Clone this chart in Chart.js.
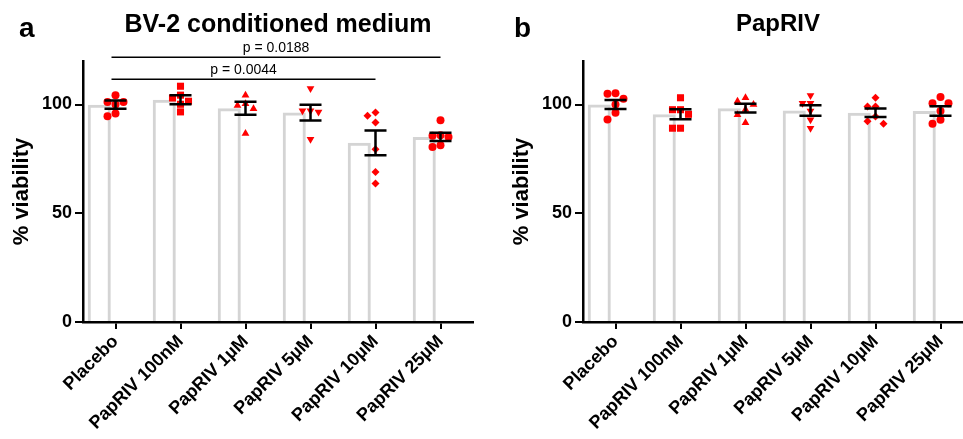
<!DOCTYPE html>
<html><head><meta charset="utf-8">
<script src="https://cdn.jsdelivr.net/npm/chart.js@4.4.1/dist/chart.umd.min.js"></script>
<style>
html,body{margin:0;padding:0;background:#fff;overflow:hidden;width:963px;height:439px;}
.wrap{position:relative;width:963px;height:439px;overflow:hidden;font-family:Arial,"Liberation Sans",sans-serif;}
.lbl{position:absolute;font-weight:bold;color:#000;white-space:nowrap;}
.ttl{position:absolute;font-weight:bold;color:#000;white-space:nowrap;text-align:center;width:400px;}
#cA{position:absolute;left:0;top:0;}
#cB{position:absolute;left:490px;top:0;}
</style></head><body>
<div class="wrap">
<canvas id="cA" width="490" height="439"></canvas>
<canvas id="cB" width="500" height="439"></canvas>
<div class="lbl" style="left:19px;top:14px;font-size:28px;line-height:28px">a</div>
<div class="ttl" style="left:78px;top:11px;font-size:25px;line-height:25px">BV-2 conditioned medium</div>
<div class="lbl" style="left:514px;top:14px;font-size:28px;line-height:28px">b</div>
<div class="ttl" style="left:578px;top:11px;font-size:24px;line-height:24px">PapRIV</div>
</div>
<script>
// ---------- data ----------
const categories = ['Placebo', 'PapRIV 100nM', 'PapRIV 1µM', 'PapRIV 5µM', 'PapRIV 10µM', 'PapRIV 25µM'];
const yTickValues = [0, 50, 100];
const yMax = 120;

// Panel a: BV-2 conditioned medium
const meanA = [99.9, 102.2, 98.3, 96.3, 82.4, 85.1];
const semA  = [1.9, 2.1, 3.0, 3.6, 5.7, 1.9];
const aPlacebo = [104.3, 101.2, 101.2, 100, 95.9, 94.6];
const a100nM   = [108.4, 104.3, 103, 101.5, 100.1, 96.6];
const a1uM     = [104.3, 100.3, 99.5, 98, 86.7];
const a5uM     = [107.4, 97.1, 97.1, 96.5, 84];
const a10uM    = [96.3, 94.8, 91.7, 79.4, 69, 63.7];
const a25uM    = [92.8, 85.9, 85.6, 85.1, 81.3, 80.5];
const pLabels  = ['p = 0.0044', 'p = 0.0188'];
const pFrom    = [0, 0];
const pTo      = [4, 5];
const pLevel   = [111.6, 121.7];

// Panel b: PapRIV
const meanB = [100, 95.5, 98.3, 97.2, 96.2, 97];
const semB  = [2.1, 2.3, 2.0, 2.4, 2.0, 2.2];
const bPlacebo = [105.2, 104.9, 102.6, 100, 96.2, 93.1];
const b100nM   = [103.1, 97.6, 97.6, 95.5, 89.1, 89.1];
const b1uM     = [103.1, 101.5, 100, 97.7, 95.3, 91.6];
const b5uM     = [104.1, 100.6, 100.6, 97, 93, 89.1];
const b10uM    = [103.1, 99.1, 99.1, 94.5, 92.3, 91.1];
const b25uM    = [103.4, 100.6, 100.6, 97, 93, 91.1];

// ---------- styling ----------
const FONT = 'Arial, "Liberation Sans", sans-serif';
const markers = [
  {style: 'circle', rot: 0, r: 4},
  {style: 'rect', rot: 0, r: 5},
  {style: 'triangle', rot: 0, r: 4.5},
  {style: 'triangle', rot: 180, r: 4.5},
  {style: 'rectRot', rot: 0, r: 4},
  {style: 'circle', rot: 0, r: 4}
];

// simple beeswarm spread for overlapping points (category units)
function swarm(vals) {
  const pxY = 2.175, pxCat = 65, diam = 7.5;
  const order = vals.map((v, k) => k).sort((p, q) => vals[q] - vals[p]);
  const placed = [];
  const off = new Array(vals.length).fill(0);
  const d = 8 / pxCat;
  const cands = [0, -d, d, -2 * d, 2 * d, -3 * d, 3 * d];
  for (const k of order) {
    for (const c of cands) {
      const ok = placed.every(p => {
        const dx = (p.o - c) * pxCat, dy = (p.v - vals[k]) * pxY;
        return dx * dx + dy * dy >= diam * diam;
      });
      if (ok) { off[k] = c; placed.push({o: c, v: vals[k]}); break; }
    }
  }
  return off;
}

function errorPlugin(means, sems) {
  return {
    id: 'errbars',
    afterDatasetsDraw(chart) {
      const ctx = chart.ctx, xs = chart.scales.x, ys = chart.scales.y;
      ctx.save();
      ctx.strokeStyle = '#000';
      ctx.lineWidth = 2.5;
      means.forEach((m, i) => {
        const x = xs.getPixelForValue(i);
        const yH = ys.getPixelForValue(m + sems[i]);
        const yL = ys.getPixelForValue(m - sems[i]);
        ctx.beginPath();
        ctx.moveTo(x, yH); ctx.lineTo(x, yL);
        ctx.moveTo(x - 11, yH); ctx.lineTo(x + 11, yH);
        ctx.moveTo(x - 11, yL); ctx.lineTo(x + 11, yL);
        ctx.stroke();
      });
      ctx.restore();
    }
  };
}

const bracketPlugin = {
  id: 'brackets',
  afterDraw(chart) {
    const ctx = chart.ctx, xs = chart.scales.x, ys = chart.scales.y;
    ctx.save();
    ctx.strokeStyle = '#000';
    ctx.fillStyle = '#000';
    ctx.lineWidth = 1.5;
    ctx.font = '14px ' + FONT;
    ctx.textAlign = 'center';
    ctx.textBaseline = 'alphabetic';
    pLabels.forEach((t, k) => {
      const x1 = xs.getPixelForValue(pFrom[k]) - 4;
      const x2 = xs.getPixelForValue(pTo[k]);
      const y = ys.getPixelForValue(pLevel[k]);
      ctx.beginPath(); ctx.moveTo(x1, y); ctx.lineTo(x2, y); ctx.stroke();
      ctx.fillText(t, (x1 + x2) / 2, y - 5);
    });
    ctx.restore();
  }
};

function makeChart(id, means, sems, groups, padLeft, yWidth, extraPlugins) {
  const datasets = [{
    type: 'bar',
    data: means,
    xAxisID: 'x',
    yAxisID: 'y',
    backgroundColor: 'rgba(255,255,255,0)',
    borderColor: '#d4d4d4',
    borderWidth: 3,
    barPercentage: 0.71,
    categoryPercentage: 1,
    order: 3
  }];
  groups.forEach((vals, i) => {
    const off = swarm(vals);
    datasets.push({
      type: 'scatter',
      data: vals.map((v, k) => ({x: i + off[k], y: v})),
      xAxisID: 'xj',
      yAxisID: 'y',
      pointStyle: markers[i].style,
      rotation: markers[i].rot,
      pointRadius: markers[i].r,
      backgroundColor: '#ff0000',
      borderColor: '#ff0000',
      borderWidth: 0,
      order: 1
    });
  });
  return new Chart(document.getElementById(id), {
    type: 'bar',
    data: {labels: categories, datasets},
    options: {
      responsive: false,
      animation: false,
      layout: {padding: {top: 61, right: 17, left: padLeft, bottom: 0}},
      plugins: {legend: {display: false}, tooltip: {enabled: false}},
      scales: {
        x: {
          type: 'category',
          offset: true,
          grid: {display: true, offset: false, drawOnChartArea: false, drawTicks: true, tickLength: 7, color: '#000', lineWidth: 2},
          border: {display: true, color: '#000', width: 2.5},
          ticks: {color: '#000', font: {family: FONT, size: 18, weight: 'bold'}, minRotation: 45, maxRotation: 45, autoSkip: false, padding: 2},
          afterFit(s) { s.height = 117; }
        },
        xj: {type: 'linear', axis: 'x', position: 'bottom', display: false, offset: false, min: -0.5, max: 5.5, grid: {offset: false}},
        y: {
          type: 'linear',
          min: 0, max: yMax,
          grid: {display: true, drawOnChartArea: false, drawTicks: true, tickLength: 8, color: '#000', lineWidth: 2},
          border: {display: true, color: '#000', width: 2.5},
          ticks: {color: '#000', font: {family: FONT, size: 18, weight: 'bold'}, padding: 3},
          title: {display: true, text: '% viability', color: '#000', font: {family: FONT, size: 22, weight: 'bold'}, padding: {top: 0, bottom: 0}},
          afterBuildTicks(s) { s.ticks = yTickValues.map(v => ({value: v})); },
          afterFit(s) { s.width = yWidth; }
        }
      }
    },
    plugins: [errorPlugin(means, sems)].concat(extraPlugins)
  });
}

makeChart('cA', meanA, semA, [aPlacebo, a100nM, a1uM, a5uM, a10uM, a25uM], 9, 74, [bracketPlugin]);
makeChart('cB', meanB, semB, [bPlacebo, b100nM, b1uM, b5uM, b10uM, b25uM], 19, 74, []);
</script>
</body></html>
